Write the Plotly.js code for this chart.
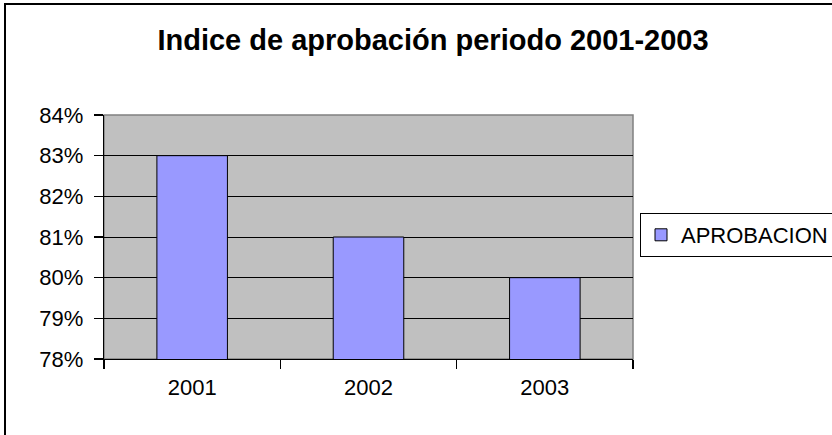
<!DOCTYPE html>
<html>
<head>
<meta charset="utf-8">
<script src="https://cdn.plot.ly/plotly-3.0.1.min.js"></script>
<style>
  html, body { margin: 0; padding: 0; background: #ffffff; }
  #chart { width: 832px; height: 435px; }
</style>
</head>
<body>
<div id="chart"></div>
<script>
const years = ['2001', '2002', '2003'];
const aprobacion = [0.83, 0.81, 0.80];
const seriesName = 'APROBACION';
const chartTitle = 'Indice de aprobación periodo 2001-2003';

const W = 832, H = 435;
const mL = 104, mR = 199, mT = 115, mB = 76;
const pw = W - mL - mR, ph = H - mT - mB;
const px = v => (v - mL) / pw;
const py = v => (H - mB - v) / ph;

const trace = {
  type: 'bar',
  x: years,
  y: aprobacion,
  name: seriesName,
  marker: { color: '#9999FF', line: { color: '#000000', width: 1 } },
  showlegend: true,
  hoverinfo: 'x+y'
};

const layout = {
  width: W, height: H,
  margin: { l: mL, r: mR, t: mT, b: mB, pad: 0, autoexpand: false },
  paper_bgcolor: '#ffffff',
  plot_bgcolor: '#C0C0C0',
  font: { family: 'Liberation Sans, Arial, sans-serif', color: '#000000', size: 22 },
  title: {
    text: '<b>' + chartTitle + '</b>',
    font: { family: 'Liberation Sans, Arial, sans-serif', size: 29, color: '#000000' },
    xref: 'container', x: 433 / W, xanchor: 'center',
    yref: 'container', y: 1 - 40 / H, yanchor: 'middle'
  },
  bargap: 0.6,
  showlegend: true,
  legend: {
    x: px(640), xanchor: 'left',
    y: py(235), yanchor: 'middle',
    bgcolor: '#ffffff', bordercolor: '#000000', borderwidth: 1,
    font: { size: 22, color: '#000000' },
    itemwidth: 30,
    tracegroupgap: 0
  },
  xaxis: {
    type: 'category',
    showgrid: false,
    showline: true, linecolor: '#000000', linewidth: 1.2,
    ticks: 'outside', ticklen: 9, tickcolor: '#000000', tickwidth: 1.2,
    tickson: 'boundaries',
    tickfont: { size: 22 },
    ticklabelstandoff: 8,
    zeroline: false,
    fixedrange: true
  },
  yaxis: {
    range: [0.78, 0.84],
    dtick: 0.01, tick0: 0.78,
    tickformat: '.0%',
    showgrid: true, gridcolor: '#000000', gridwidth: 1,
    showline: true, linecolor: '#000000', linewidth: 1.2,
    ticks: 'outside', ticklen: 9, tickcolor: '#000000', tickwidth: 1.2,
    tickfont: { size: 22 },
    ticklabelstandoff: 6,
    zeroline: false,
    fixedrange: true
  },
  shapes: [
    { type: 'rect', xref: 'paper', yref: 'paper', x0: 0, x1: 1, y0: 0, y1: 1,
      line: { color: '#808080', width: 1.5 }, layer: 'below' },
    { type: 'rect', xref: 'paper', yref: 'paper',
      x0: px(5), x1: px(W + 20), y0: py(H + 20), y1: py(4),
      line: { color: '#000000', width: 2 }, layer: 'above' }
  ]
};

Plotly.newPlot('chart', [trace], layout, { displayModeBar: false, staticPlot: true });
</script>
</body>
</html>
